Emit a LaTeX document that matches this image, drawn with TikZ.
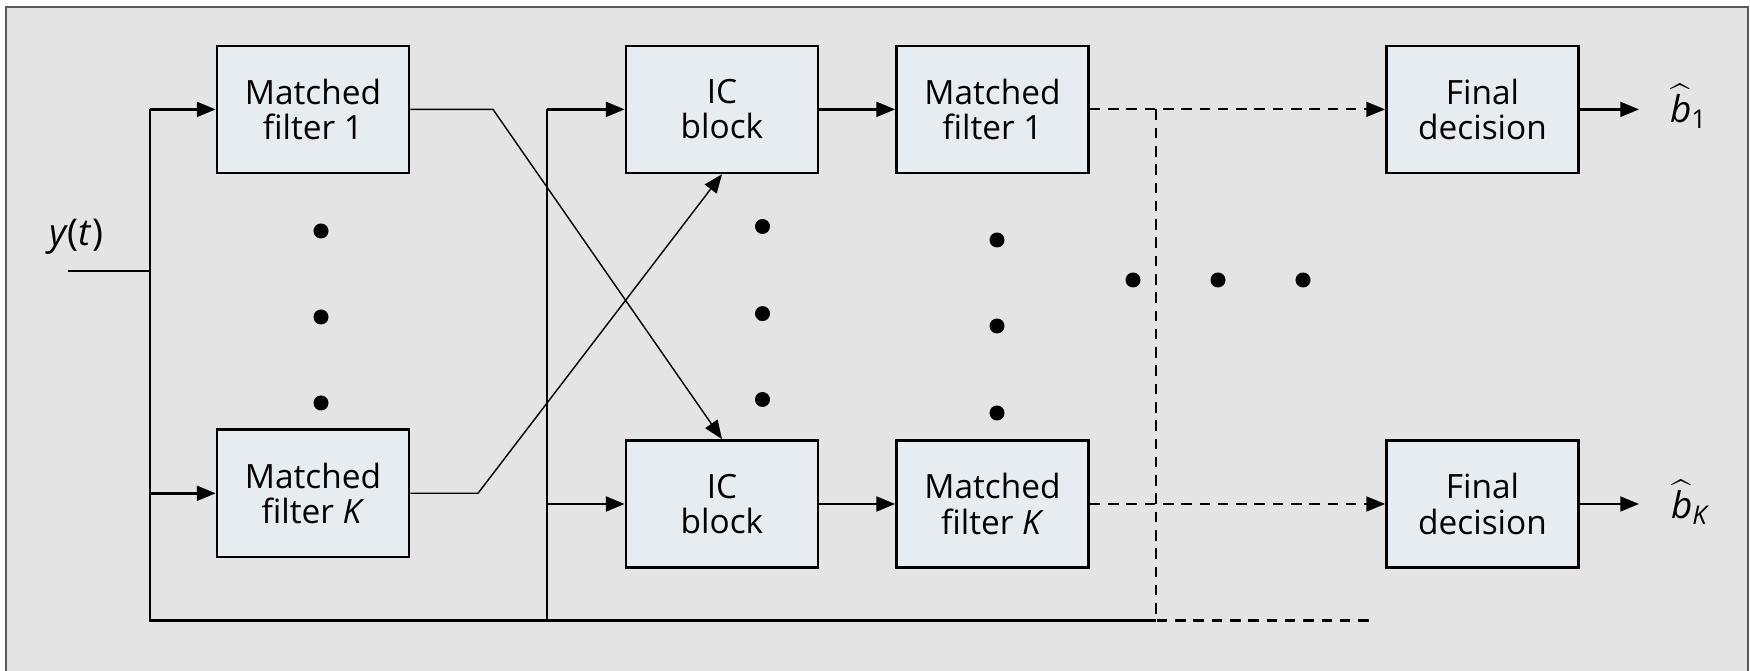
\documentclass[tikz,border=0pt]{standalone}
\usepackage{fontspec}
\setmainfont{Open Sans}
\usetikzlibrary{arrows.meta}
\definecolor{panel}{RGB}{228,228,228}
\definecolor{boxfill}{RGB}{231,236,241}
\definecolor{frameline}{RGB}{90,90,90}
\begin{document}
\begin{tikzpicture}[x=0.01cm,y=-0.01cm,
  blk/.style={draw, line width=0.75pt, fill=boxfill, minimum width=1.92cm,
    minimum height=1.27cm, align=center, inner sep=0pt,
    font=\fontsize{9.5}{10}\selectfont},
  lbl/.style={font=\fontsize{10.5}{11}\selectfont, inner sep=0pt},
  tip/.style={-{Triangle[length=5.3pt,width=4.2pt]}},
  bus/.style={line width=0.7pt},
  thinline/.style={line width=0.4pt},
  dashline/.style={line width=0.6pt, dash pattern=on 3pt off 2.2pt},
  dot/.style={circle, fill, inner sep=0pt, minimum size=0.15cm}]
\useasboundingbox (0,0) rectangle (1750,671);
\clip (0,0) rectangle (1750,671);
\fill[white] (0,0) rectangle (1750,671);
\draw[frameline, line width=0.5pt, fill=panel] (6,7) rectangle (1748,700);

% processing blocks
\node[blk] (mf1) at (313,109.4)   {Matched\\filter 1};
\node[blk] (mfK) at (313,493.3)   {Matched\\filter \textit{K}};
\node[blk] (ic1) at (722,109.4)   {IC\\block};
\node[blk] (icK) at (722,504)     {IC\\block};
\node[blk] (mg1) at (992.5,109.4) {Matched\\filter 1};
\node[blk] (mgK) at (992.5,504)   {Matched\\filter \textit{K}};
\node[blk] (fd1) at (1482.5,109.4) {Final\\decision};
\node[blk] (fdK) at (1482.5,504)   {Final\\decision};

% input and output labels
\node[lbl] (yt) at (76,237) {\textit{y}(\textit{t})};
\node[lbl] (bh1) at (1689,106) {$\widehat{\mbox{\textit{b}}}$\textsubscript{1}};
\node[lbl] (bhK) at (1691,502) {$\widehat{\mbox{\textit{b}}}$\textsubscript{\textit{K}}};

% junction points of the signal buses
\coordinate (in)   at (68,271.2);
\coordinate (j0)   at (150,271.2);
\coordinate (busT) at (150,109.4);
\coordinate (busK) at (150,493.3);
\coordinate (busB) at (150,620.5);
\coordinate (b2T)  at (547,109.4);
\coordinate (b2K)  at (547,504);
\coordinate (b2B)  at (547,620.5);
\coordinate (fbT)  at (1156,109.4);
\coordinate (fbB)  at (1156,620.5);
\coordinate (fbE)  at (1370,620.5);
\coordinate (x1)   at (493,109.4);
\coordinate (xK)   at (478,493.3);
\coordinate (o1)   at (1639,109.4);
\coordinate (oK)   at (1639,504);

% received signal distribution
\draw[bus] (in) -- (j0);
\draw[bus] (busT) -- (busB) -- (fbB);
\draw[bus,tip] (busT) -- (mf1);
\draw[bus,tip] (busK) -- (mfK);
\draw[bus] (b2T) -- (b2B);
\draw[bus,tip] (b2T) -- (ic1);
\draw[bus,tip] (b2K) -- (icK);

% cross-coupling between users
\draw[thinline,tip] (mf1.east) -- (x1) -- (icK.north);
\draw[thinline,tip] (mfK.east) -- (xK) -- (ic1.south);

% stage chain
\draw[bus,tip] (ic1) -- (mg1);
\draw[bus,tip] (icK) -- (mgK);
\draw[dashline,tip] (mg1) -- (fd1);
\draw[dashline,tip] (mgK) -- (fdK);
\draw[dashline] (fbT) -- (fbB) -- (fbE);
\draw[bus,tip] (fd1) -- (o1);
\draw[bus,tip] (fdK) -- (oK);

% ellipsis dots
\foreach \y [count=\i] in {231,317,403} \node[dot] (da\i) at (321,\y) {};
\foreach \y [count=\i] in {226.5,313.6,399.5} \node[dot] (db\i) at (762.5,\y) {};
\foreach \y [count=\i] in {240,326,413} \node[dot] (dc\i) at (997,\y) {};
\foreach \x [count=\i] in {1133,1218,1303} \node[dot] (dh\i) at (\x,280) {};
\end{tikzpicture}
\end{document}
